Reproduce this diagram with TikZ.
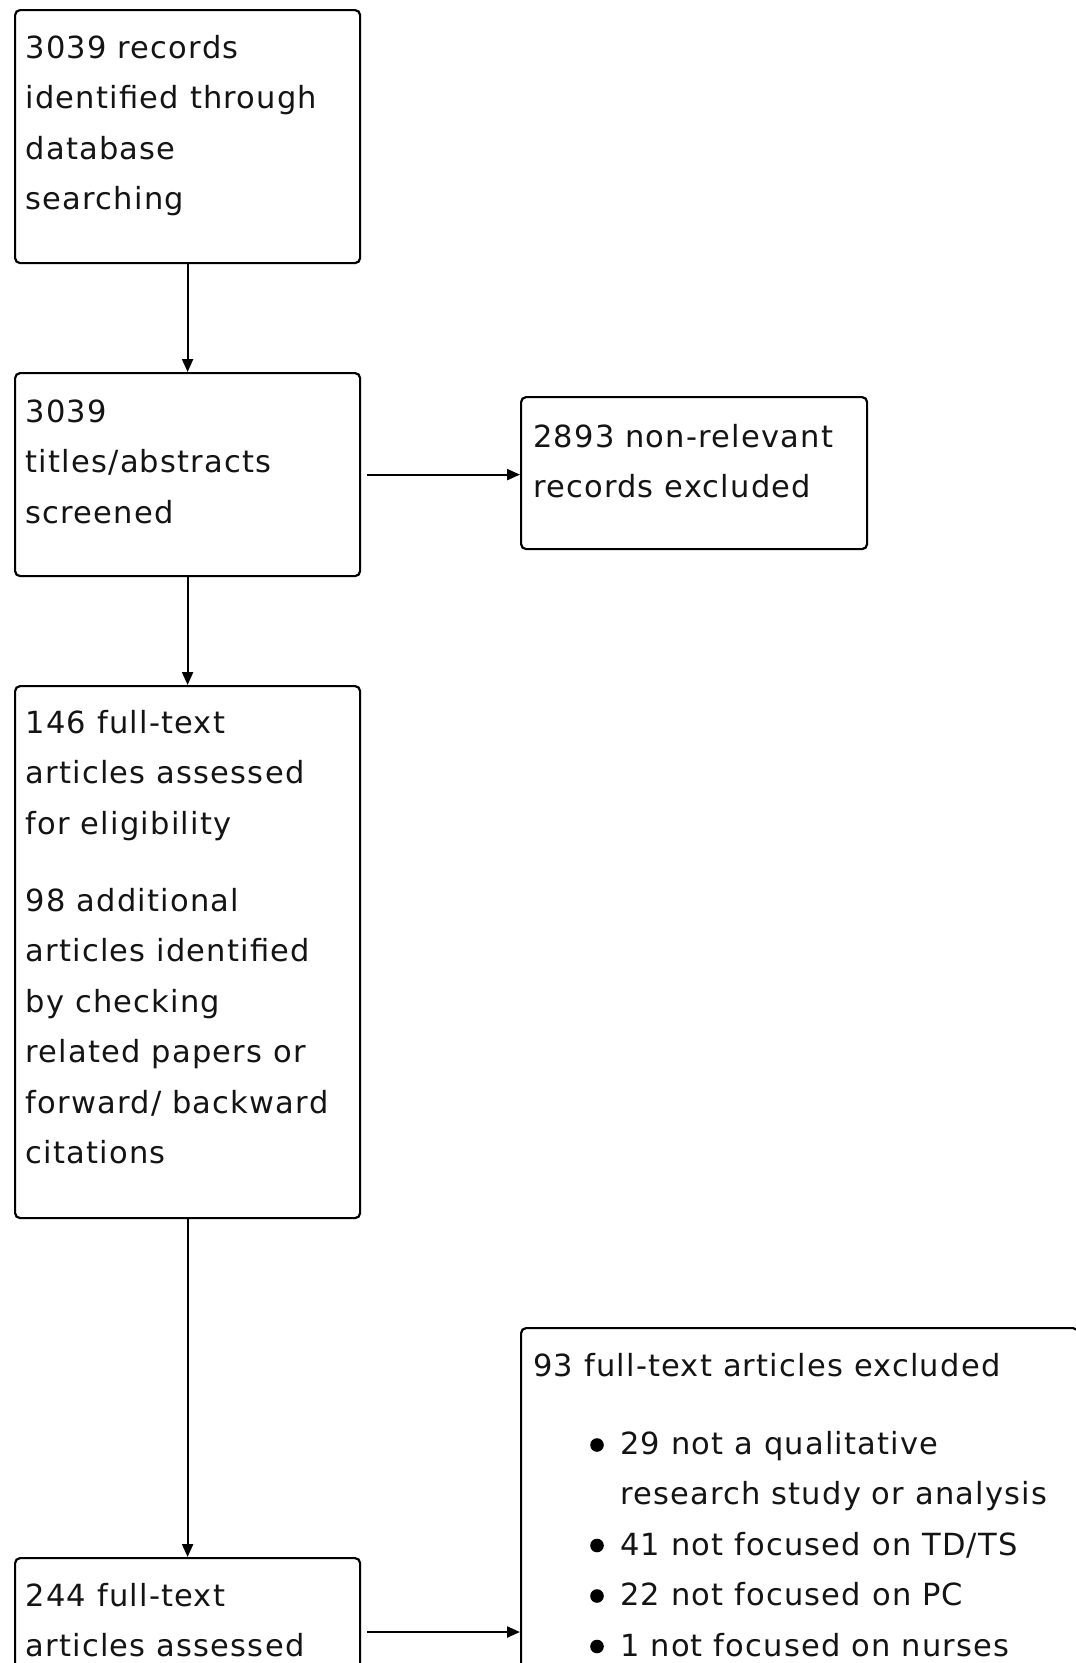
\documentclass[tikz,border=0pt]{standalone}
\usepackage{fontspec}
\setmainfont{DejaVu Sans}[LetterSpace=4]
\usetikzlibrary{arrows.meta}
\tikzset{
  box/.style={draw=black, line width=2.2pt, rounded corners=5pt, inner sep=0pt, anchor=north west},
  txt/.style={anchor=north west, inner sep=0pt, align=left, text=black!92,
    font=\fontsize{30.5pt}{50.5pt}\selectfont},
  arr/.style={draw=black, line width=2.2pt, -{Triangle[length=13pt,width=11pt]}},
  dot/.style={fill=black},
}
\newcommand\fl{\rule{0pt}{30pt}}
\begin{document}
\begin{tikzpicture}[x=1pt,y=-1pt]
\useasboundingbox (0,0) rectangle (1076,1663);
\clip (0,0) rectangle (1076,1663);
\fill[white] (0,0) rectangle (1076,1663);

% boxes
\node[box, minimum width=345pt, minimum height=253pt] (b1) at (14,9) {};
\node[box, minimum width=345pt, minimum height=203pt] (b2) at (14,372) {};
\node[box, minimum width=346pt, minimum height=152pt] (b3) at (520,396) {};
\node[box, minimum width=345pt, minimum height=532pt] (b4) at (14,685) {};
\node[box, minimum width=345pt, minimum height=260pt] (b5) at (14,1557) {};
\node[box, minimum width=557pt, minimum height=420pt] (b6) at (520,1327) {};

% texts
\node[txt] (t1) at (25.5,28) {\fl 3039 records\\identified through\\database\\searching};
\node[txt] (t2) at (25.5,392) {\fl 3039\\titles/abstracts\\screened};
\node[txt] (t3) at (533,417) {\fl 2893 non-relevant\\records excluded};
\node[txt] (t4) at (25.5,703) {\fl 146 full-text\\articles assessed\\for eligibility\\[26.5pt]98 additional\\articles identified\\by checking\\related papers or\\forward/ backward\\citations};
\node[txt] (t5) at (25.5,1576) {\fl 244 full-text\\articles assessed};
\node[txt] (t6) at (533,1346) {\fl 93 full-text articles excluded};
\node[txt] (t7) at (620,1424) {\fl 29 not a qualitative\\research study or analysis\\41 not focused on TD/TS\\22 not focused on PC\\1 not focused on nurses};

% bullets
\fill[dot] (597,1445) circle (6.8pt);
\fill[dot] (597,1545.5) circle (6.8pt);
\fill[dot] (597,1596) circle (6.8pt);
\fill[dot] (597,1646.5) circle (6.8pt);

% connectors
\draw[arr] (b1.south) -- (b2.north);
\draw[arr, shorten <=6pt] (b2.east) -- (b2.east -| b3.west);
\draw[arr] (b2.south) -- (b4.north);
\draw[arr] (b4.south) -- (b5.north);
\draw[arr, shorten <=6pt] ([yshift=-75pt]b5.north east) -- ([yshift=-75pt]b5.north east -| b6.west);
\end{tikzpicture}
\end{document}
